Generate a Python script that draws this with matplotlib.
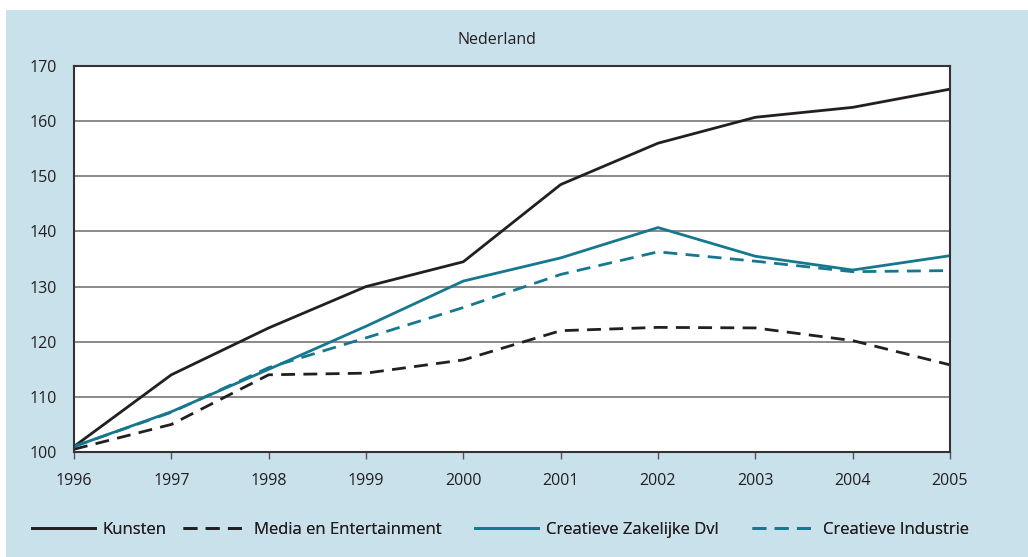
import matplotlib.pyplot as plt
from matplotlib.patches import Rectangle

years = [1996, 1997, 1998, 1999, 2000, 2001, 2002, 2003, 2004, 2005]
kunsten = [101.0, 114.0, 122.5, 130.0, 134.5, 148.5, 156.0, 160.7, 162.5, 165.8]
media = [100.5, 105.0, 114.0, 114.3, 116.7, 122.0, 122.6, 122.5, 120.2, 115.8]
zakelijk = [101.0, 107.3, 115.0, 122.8, 131.0, 135.2, 140.7, 135.5, 133.0, 135.6]
industrie = [101.0, 107.2, 115.3, 120.7, 126.2, 132.2, 136.3, 134.6, 132.7, 132.9]
labels = ["Kunsten", "Media en Entertainment", "Creatieve Zakelijke Dvl", "Creatieve Industrie"]

BG = "#c9e1ea"
TEAL = "#15788f"
DARK = "#231f20"
DASH = (0, (5, 3))

plt.rcParams["font.family"] = ["Open Sans", "DejaVu Sans"]

fig = plt.figure(figsize=(10.28, 5.57), dpi=100)
fig.patch.set_facecolor("white")
fig.patches.append(Rectangle((6 / 1028, 0), 1 - 6 / 1028, 1 - 10 / 557,
                             transform=fig.transFigure, facecolor=BG,
                             edgecolor="none", zorder=-10))

ax = fig.add_axes([74 / 1028, 1 - 452 / 557, 876 / 1028, 386 / 557])
ax.set_facecolor("white")

l1, = ax.plot(years, kunsten, color=DARK, lw=2, label=labels[0])
l2, = ax.plot(years, media, color=DARK, lw=2, ls=DASH, label=labels[1])
l3, = ax.plot(years, zakelijk, color=TEAL, lw=2, label=labels[2])
l4, = ax.plot(years, industrie, color=TEAL, lw=2, ls=DASH, label=labels[3])

ax.set_xlim(1996, 2005)
ax.set_ylim(100, 170)
ax.set_xticks(years)
ax.set_yticks(range(100, 171, 10))
ax.yaxis.grid(True, color="#777777", lw=1.2)
ax.set_axisbelow(True)
for s in ax.spines.values():
    s.set_color("#333333")
    s.set_linewidth(1.5)
ax.tick_params(axis="x", direction="out", length=5, width=1, color="#555555",
               labelsize=11.5, labelcolor=DARK, pad=10)
ax.tick_params(axis="y", length=0, labelsize=11.5, labelcolor=DARK, pad=12)

fig.text(497 / 1028, 1 - 40 / 557, "Nederland", ha="center", va="center",
         fontsize=11.5, color=DARK)

# one legend entry per position, like the original layout
starts = [32, 183, 475, 752]
for line, x0 in zip([l1, l2, l3, l4], starts):
    leg = fig.legend([line], [line.get_label()], loc="center left",
                     bbox_to_anchor=(x0 / 1028, 1 - 530 / 557), frameon=False,
                     fontsize=12, handlelength=3.75, handletextpad=0.5,
                     borderpad=0, borderaxespad=0, labelcolor=DARK)
    fig.add_artist(leg)

fig.savefig("out.png", dpi=100)
